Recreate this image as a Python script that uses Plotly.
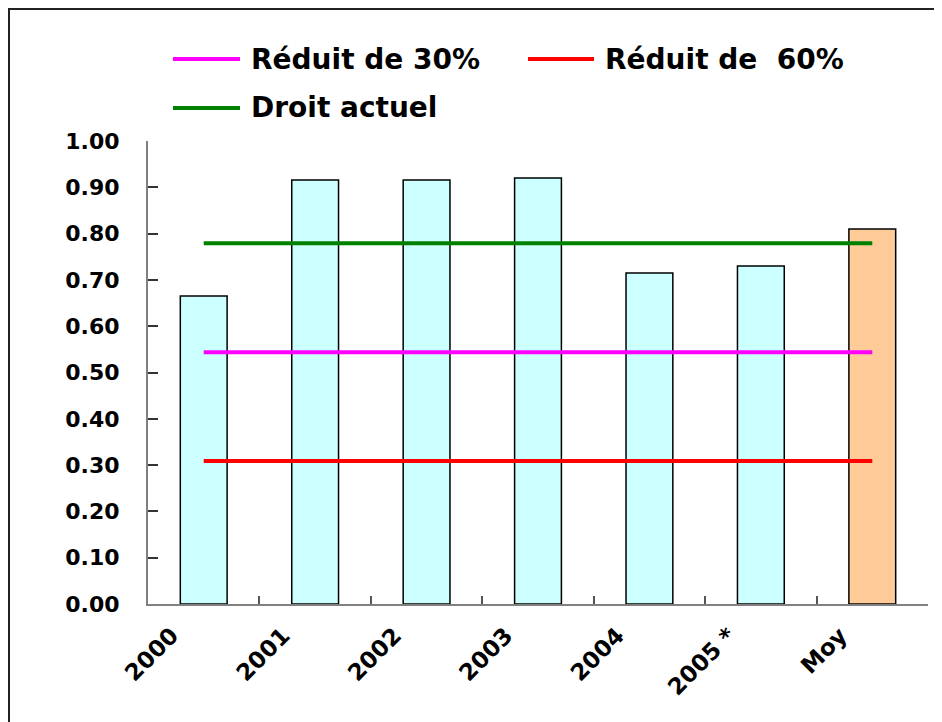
import plotly.graph_objects as go

categories = ["2000", "2001", "2002", "2003", "2004", "2005 *", "Moy"]
bar_values = [0.665, 0.916, 0.916, 0.920, 0.715, 0.730, 0.810]
bar_colors = ["#CCFFFF", "#CCFFFF", "#CCFFFF", "#CCFFFF", "#CCFFFF", "#CCFFFF", "#FFCC99"]
reduit30 = [0.544, 0.544, 0.544, 0.544, 0.544, 0.544, 0.544]
reduit60 = [0.309, 0.309, 0.309, 0.309, 0.309, 0.309, 0.309]
droit_actuel = [0.779, 0.779, 0.779, 0.779, 0.779, 0.779, 0.779]
y_ticks = [0.0, 0.1, 0.2, 0.3, 0.4, 0.5, 0.6, 0.7, 0.8, 0.9, 1.0]
legend_names = ["Réduit de 30%", "Réduit de  60%", "Droit actuel"]
legend_colors = ["#FF00FF", "#FF0000", "#008000"]

FONT = "DejaVu Sans, Liberation Sans, Arial"

fig = go.Figure()
fig.add_trace(go.Bar(
    x=categories, y=bar_values, width=0.42,
    marker=dict(color=bar_colors, line=dict(color="#000000", width=1.5)),
    showlegend=False, hoverinfo="x+y"))
for name, vals, col in [(legend_names[0], reduit30, legend_colors[0]),
                        (legend_names[1], reduit60, legend_colors[1]),
                        (legend_names[2], droit_actuel, legend_colors[2])]:
    fig.add_trace(go.Scatter(x=categories, y=vals, mode="lines", name=name,
                             line=dict(color=col, width=4), showlegend=False))

# page offset (browser body margin)
OFF = 8
# plot area geometry in window pixels
L, R, T, B = 148, 928, 141, 604
W = 942 - OFF
H = 722 - OFF

def px(xp):
    return (xp - L) / (R - L)

def py(yp):
    return (B - yp) / (B - T)

# manual legend
legend_pos = [(173, 240, 249, 59), (528, 594, 603, 59), (173, 240, 249, 108)]
shapes = []
annotations = []
for (x0, x1, xt, yy), name, col in zip(legend_pos, legend_names, legend_colors):
    shapes.append(dict(type="line", xref="paper", yref="paper",
                       x0=px(x0), x1=px(x1), y0=py(yy), y1=py(yy),
                       line=dict(color=col, width=4)))
    annotations.append(dict(xref="paper", yref="paper", x=px(xt), y=py(yy),
                            xanchor="left", yanchor="middle", text=name,
                            showarrow=False,
                            font=dict(family=FONT, size=28, color="#000000", weight="bold")))

# outer frame
shapes.append(dict(type="rect", xref="paper", yref="paper",
                   x0=px(OFF + 1), y0=py(900), x1=px(1100), y1=py(OFF + 1),
                   line=dict(color="#222222", width=2), fillcolor="rgba(0,0,0,0)", layer="above"))

fig.update_layout(
    width=W, height=H,
    margin=dict(l=L - OFF, r=942 - R, t=T - OFF, b=722 - B),
    paper_bgcolor="#FFFFFF", plot_bgcolor="#FFFFFF",
    shapes=shapes, annotations=annotations,
    showlegend=False,
    bargap=0.58,
)
fig.update_xaxes(
    type="category", showgrid=False, showline=True, linecolor="#808080", linewidth=2,
    ticks="inside", ticklen=8, tickcolor="#555555", tickwidth=1.5, tickson="boundaries",
    tickangle=-45, ticklabelshift=-32, ticklabelstandoff=7,
    tickfont=dict(family=FONT, size=23, color="#000000", weight="bold"),
    range=[-0.5, 6.5], zeroline=False)
fig.update_yaxes(
    range=[0, 1], tickvals=y_ticks, ticktext=[f"{v:.2f}" for v in y_ticks],
    showgrid=False, showline=True, linecolor="#808080", linewidth=2,
    ticks="inside", ticklen=10, tickcolor="#333333", tickwidth=1.5,
    ticklabelstandoff=22,
    tickfont=dict(family=FONT, size=22, color="#000000", weight="bold"),
    zeroline=False)

fig.write_html("out.html")
